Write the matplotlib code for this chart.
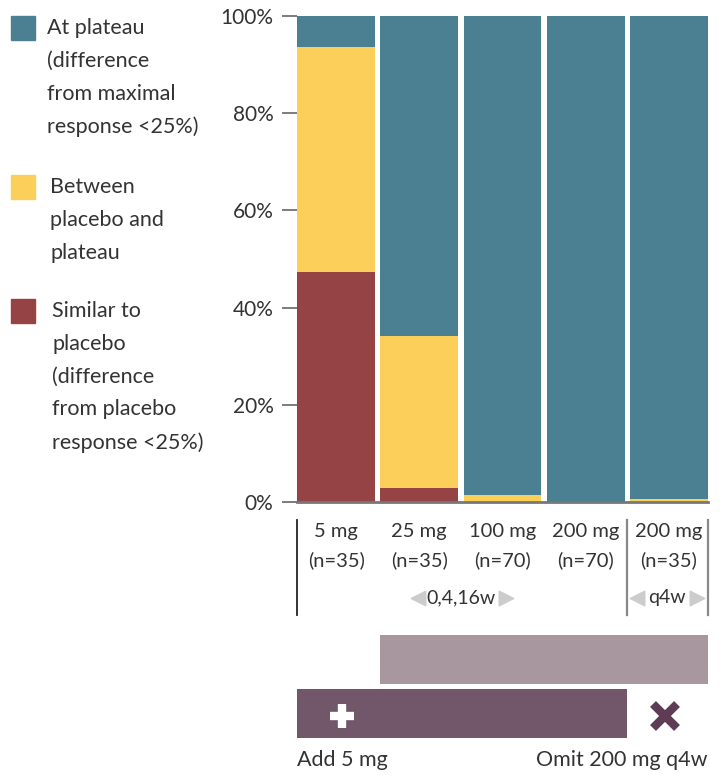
import numpy as np
import matplotlib
matplotlib.use('Agg')
import matplotlib.pyplot as plt

# data
doses = ['5 mg', '25 mg', '100 mg', '200 mg', '200 mg']
n_pts = ['(n=35)', '(n=35)', '(n=70)', '(n=70)', '(n=35)']
similar = [47.4, 2.9, 0.0, 0.0, 0.0]
between = [46.2, 31.3, 1.4, 0.0, 0.6]
plateau = [6.4, 65.8, 98.6, 100.0, 99.4]
yticks = [0, 20, 40, 60, 80, 100]

c_plat = '#4A8092'
c_betw = '#FCCF5B'
c_sim = '#954344'
c_text = '#333333'

plt.rcParams['font.family'] = ['Lato', 'DejaVu Sans']

W, H = 724, 776
fig = plt.figure(figsize=(W / 100, H / 100), dpi=100)

def rect(x0, y0, x1, y1):
    return [x0 / W, 1 - y1 / H, (x1 - x0) / W, (y1 - y0) / H]

x = np.arange(len(doses))
bw = 0.937
xl = (-0.47, 4.47)

ax = fig.add_axes(rect(297, 16, 708, 502))
ax.bar(x, similar, bw, color=c_sim)
ax.bar(x, between, bw, bottom=similar, color=c_betw)
ax.bar(x, plateau, bw, bottom=np.add(similar, between), color=c_plat)
ax.set_xlim(*xl)
ax.set_ylim(0, 100)
for s in ['top', 'right', 'left']:
    ax.spines[s].set_visible(False)
ax.spines['bottom'].set_color('#777777')
ax.spines['bottom'].set_linewidth(2)
ax.set_xticks([])
ax.set_yticks(yticks)
ax.set_yticklabels([f'{t}%' for t in yticks], fontsize=15, color=c_text)
ax.tick_params(axis='y', length=11, width=1.2, color='#666666', pad=6)

# legend at left
leg = [(c_plat, 'At plateau\n(difference\nfrom maximal\nresponse <25%)', 16, 47),
       (c_betw, 'Between\nplacebo and\nplateau', 175, 50),
       (c_sim, 'Similar to\nplacebo\n(difference\nfrom placebo\nresponse <25%)', 299, 52)]
for col, lab, ytop, xt in leg:
    fig.patches.append(plt.Rectangle((11 / W, 1 - (ytop + 24) / H), 24 / W, 24 / H,
                                     transform=fig.transFigure, color=col))
    fig.text(xt / W, 1 - (ytop + 2) / H, lab, fontsize=15.5, color=c_text,
             va='top', ha='left', linespacing=1.8)

# lower annotation area
ax2 = fig.add_axes(rect(297, 505, 708, 776))
ax2.set_xlim(*xl)
ax2.set_ylim(776, 505)
ax2.axis('off')
for i in x:
    ax2.text(i, 532, doses[i], ha='center', va='center', fontsize=14.5, color=c_text)
    ax2.text(i, 560, n_pts[i], ha='center', va='center', fontsize=14.5, color=c_text)
ax2.plot([-0.47, -0.47], [520, 615], color='#222222', lw=1.3, clip_on=False)
ax2.plot([3.5, 3.5], [520, 615], color='#888888', lw=1.6, clip_on=False)
ax2.plot([4.47, 4.47], [520, 615], color='#888888', lw=1.6, clip_on=False)

ax2.text(1.5, 598, '0,4,16w', ha='center', va='center', fontsize=14, color=c_text)
ax2.scatter([0.98], [598], marker='<', s=110, color='#CCCCCC', clip_on=False)
ax2.scatter([2.04], [598], marker='>', s=110, color='#CCCCCC', clip_on=False)
ax2.text(3.98, 598, 'q4w', ha='center', va='center', fontsize=14, color=c_text)
ax2.scatter([3.62], [598], marker='<', s=110, color='#CCCCCC', clip_on=False)
ax2.scatter([4.34], [598], marker='>', s=110, color='#CCCCCC', clip_on=False)

# regimen bars
ax2.barh(659.5, 4.47 - 0.53, left=0.53, height=49, color='#A8979E')
ax2.barh(713.5, 3.5 + 0.47, left=-0.47, height=49, color='#725669')
ax2.plot([0.07], [716], marker='+', ms=17, mew=6, color='white')
ax2.plot([3.95], [716], marker='x', ms=17, mew=6, color='#5F3C55')
ax2.text(-0.47, 760, 'Add 5 mg', ha='left', va='center', fontsize=15.5, color=c_text)
ax2.text(4.47, 760, 'Omit 200 mg q4w', ha='right', va='center', fontsize=15.5, color=c_text)

fig.savefig('out.png', dpi=100)
